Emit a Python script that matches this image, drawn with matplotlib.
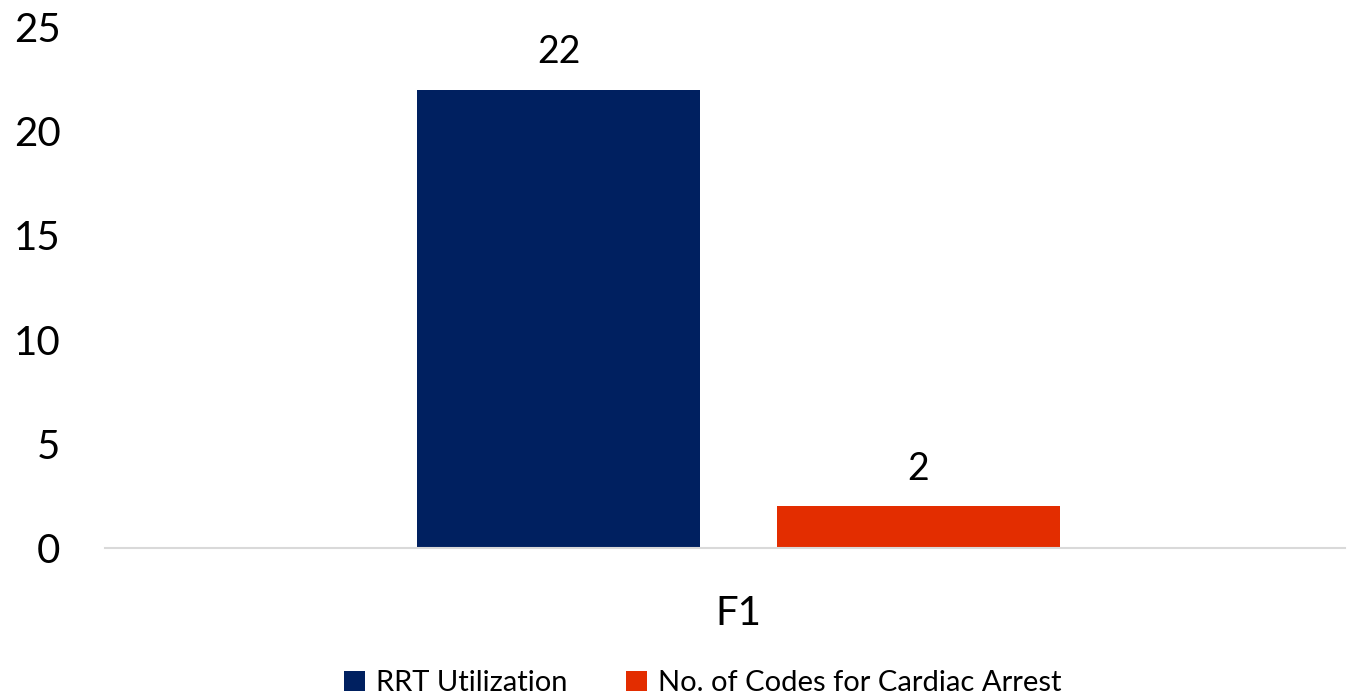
import matplotlib.pyplot as plt

plt.rcParams['font.family'] = ['Lato', 'DejaVu Sans']

categories = ['F1']
series_names = ['RRT Utilization', 'No. of Codes for Cardiac Arrest']
series_values = [[22], [2]]
colors = ['#002060', '#E32D00']
y_ticks = [0, 5, 10, 15, 20, 25]

fig = plt.figure(figsize=(13.57, 6.98), dpi=100)
ax = fig.add_axes([0.0774, 0.2149, 0.9137, 0.7464])

width = 0.456
offsets = [-0.290, 0.290]
for name, vals, col, off in zip(series_names, series_values, colors, offsets):
    xs = [i + off for i in range(len(categories))]
    bars = ax.bar(xs, vals, width=width, color=col, label=name)
    ax.bar_label(bars, padding=14, fontsize=27)

ax.set_xlim(-1.0218, 0.978)
ax.set_ylim(0, 25)
ax.set_yticks(y_ticks)
ax.set_xticks(range(len(categories)))
ax.set_xticklabels(categories)

for s in ['top', 'right', 'left']:
    ax.spines[s].set_visible(False)
ax.spines['bottom'].set_color('#D9D9D9')
ax.spines['bottom'].set_linewidth(1.5)
ax.tick_params(axis='y', length=0, labelsize=29, pad=32)
ax.tick_params(axis='x', length=0, labelsize=29, pad=34)

fig.legend(loc='lower center', bbox_to_anchor=(0.518, -0.035), ncol=2, frameon=False,
           fontsize=21, handlelength=0.7, handleheight=0.7, handletextpad=0.4,
           columnspacing=2.0)

fig.savefig('out.png', dpi=100)
